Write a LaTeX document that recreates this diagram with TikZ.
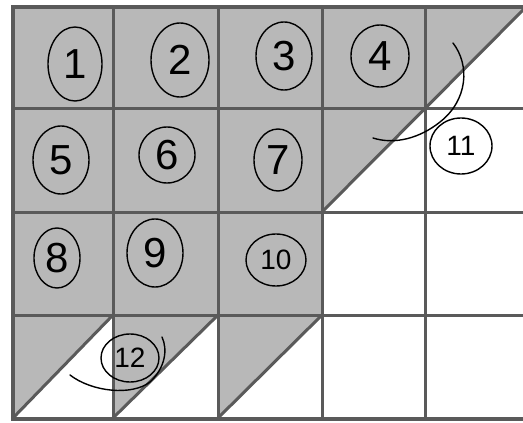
\documentclass[tikz,border=0pt]{standalone}
\usepackage{fontspec}
\setmainfont{Liberation Sans}
\usetikzlibrary{shapes.geometric}
\definecolor{cellgray}{RGB}{184,184,184}
\definecolor{gridc}{RGB}{90,90,90}
\tikzset{
  gridline/.style={draw=gridc,line width=3pt},
  border/.style={draw=gridc,line width=4pt},
  pen/.style={draw=black,line width=1.4pt,line cap=round},
  num/.style={ellipse,pen,inner sep=0pt,font=\fontsize{42}{42}\selectfont},
  smallnum/.style={ellipse,pen,inner sep=0pt,font=\fontsize{28}{28}\selectfont}
}
\begin{document}
\begin{tikzpicture}[x=1pt,y=-1pt]
\useasboundingbox (0,0) rectangle (523,423);
\fill[white] (0,0) rectangle (523,423);
% shaded regions
\fill[cellgray] (13,7) -- (322,7) -- (322,315) -- (13,315) -- cycle;
\fill[cellgray] (322,7) -- (523,7) -- (523,10) -- (322,212) -- cycle;
\fill[cellgray] (13,315) -- (113,315) -- (13,418) -- cycle;
\fill[cellgray] (113,315) -- (218,315) -- (113,418) -- cycle;
\fill[cellgray] (218,315) -- (322,315) -- (218,418) -- cycle;
% grid
\foreach \x in {113,218,322,425} \draw[gridline] (\x,7) -- (\x,418);
\foreach \y in {108,212,315} \draw[gridline] (13,\y) -- (523,\y);
% diagonals
\draw[gridline] (322,212) -- (525,8);
\draw[gridline] (13,418) -- (113,315);
\draw[gridline] (113,418) -- (218,315);
\draw[gridline] (218,418) -- (322,315);
% border
\draw[border] (523,7) -- (13,7) -- (13,419) -- (523,419);
% numbers
\node[num,minimum width=54pt,minimum height=74pt] (n1) at (75,64) {1};
\node[num,minimum width=58pt,minimum height=74pt] (n2) at (180,60) {2};
\node[num,minimum width=56pt,minimum height=68pt] (n3) at (284,56) {3};
\node[num,minimum width=58pt,minimum height=62pt] (n4) at (380,56) {4};
\node[num,minimum width=56pt,minimum height=68pt] (n5) at (61,160) {5};
\node[num,minimum width=56pt,minimum height=56pt] (n6) at (167,155) {6};
\node[num,minimum width=48pt,minimum height=62pt] (n7) at (278,160) {7};
\node[num,minimum width=46pt,minimum height=60pt] (n8) at (57,258) {8};
\node[num,minimum width=56pt,minimum height=68pt] (n9) at (155,253) {9};
\node[smallnum,minimum width=60pt,minimum height=52pt] (n10) at (276,260) {10};
\node[smallnum,minimum width=62pt,minimum height=56pt] (n11) at (461,146) {11};
\node[smallnum,minimum width=58pt,minimum height=48pt] (n12) at (130,358) {12};
% angle arcs
\draw[pen] (453,43) .. controls (470,65) and (468,100) .. (440,122) .. controls (420,138) and (395,145) .. (373,138);
\draw[pen] (70,375) .. controls (92,392) and (132,396) .. (150,382) .. controls (165,368) and (168,350) .. (162,337);
\end{tikzpicture}
\end{document}
